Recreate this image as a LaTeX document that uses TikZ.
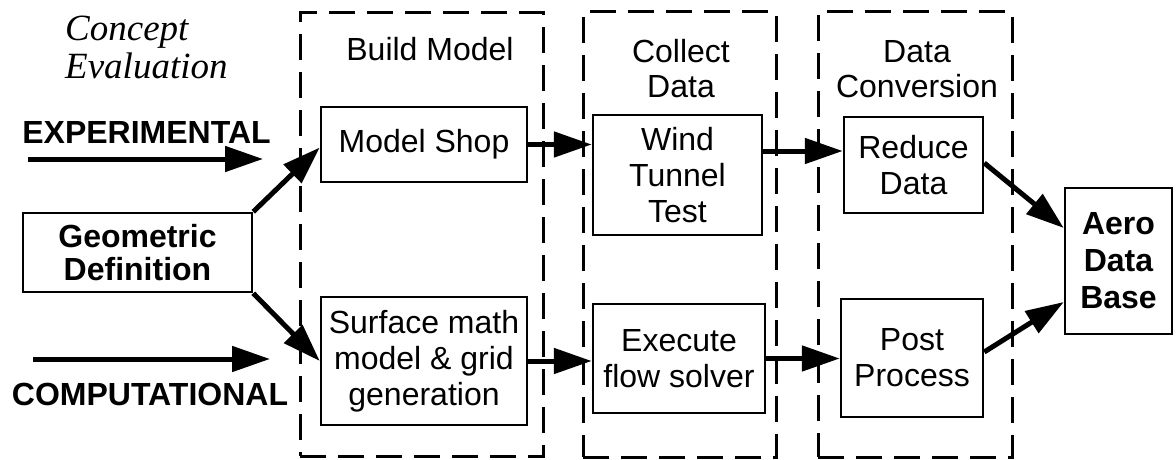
\documentclass[tikz,border=0pt]{standalone}
\usepackage{fontspec}
\setmainfont{Liberation Sans}
\newfontfamily\titleserif{Liberation Serif}
\usetikzlibrary{arrows.meta,calc}

\begin{document}
\begin{tikzpicture}[x=1pt,y=-1pt,
  box/.style={draw, line width=2.5pt, inner sep=0pt, align=center,
    font=\fontsize{32}{36}\selectfont},
  boldbox/.style={box, font=\fontsize{32}{33}\bfseries\selectfont},
  stage/.style={draw, line width=3pt, dash pattern=on 26pt off 12pt, inner sep=0pt},
  stagelabel/.style={align=center, inner sep=0pt, font=\fontsize{32}{35}\selectfont},
  modelabel/.style={inner sep=0pt, anchor=base, font=\fontsize{32}{35}\bfseries\selectfont},
  flow/.style={line width=5pt, -{Triangle[length=38pt,width=25pt]}},
]
\useasboundingbox (0,0) rectangle (1176,460);

% dashed stage frames
\node[stage, minimum width=243pt, minimum height=443pt] (build)   at (421.5,234.5) {};
\node[stage, minimum width=193pt, minimum height=445pt] (collect) at (679.5,234.5) {};
\node[stage, minimum width=194pt, minimum height=445pt] (conv)    at (915,234.5) {};

% stage titles
\node[stagelabel] (buildT)   at (430,49)  {Build Model};
\node[stagelabel] (collectT) at (681,69)  {Collect\\Data};
\node[stagelabel] (convT)    at (917,69)  {Data\\Conversion};

% heading (anchored on the baseline of its last line)
\node[anchor=base west, align=left, inner sep=0pt,
      font=\fontsize{37}{39}\titleserif\itshape\selectfont] (concept) at (65,79)
      {Concept\\Evaluation};

% process boxes
\node[boldbox, minimum width=229pt, minimum height=79pt]  (geo)    at (137.5,252.5) {Geometric\\Definition};
\node[box,     minimum width=206pt, minimum height=75pt]  (shop)   at (424,144.5)   {Model Shop};
\node[box,     minimum width=206pt, minimum height=128pt] (surf)   at (424,361)     {Surface math\\model \& grid\\generation};
\node[box,     minimum width=169pt, minimum height=120pt] (wind)   at (677.5,175)   {Wind\\Tunnel\\Test};
\node[box,     minimum width=172pt, minimum height=109pt] (exec)   at (679,358.5)   {Execute\\flow solver};
\node[box,     minimum width=139pt, minimum height=96pt]  (reduce) at (913.5,165)   {Reduce\\Data};
\node[box,     minimum width=142pt, minimum height=118pt] (post)   at (912,358)     {Post\\Process};
\node[boldbox, minimum width=107pt, minimum height=146pt, font=\fontsize{32}{37}\bfseries\selectfont]
      (aero) at (1118.5,261) {Aero\\Data\\Base};

% approach labels and their inputs
\node[modelabel] (expT)  at (146.5,143) {EXPERIMENTAL};
\node[modelabel] (compT) at (150,405)   {COMPUTATIONAL};
\coordinate (expS)  at (28,159);
\coordinate (expE)  at (263,159);
\coordinate (compS) at (33,359);
\coordinate (compE) at (270,359);
\draw[flow] (expS) -- (expE);
\draw[flow] (compS) -- (compE);

% flow between steps
\draw[flow] (geo.north east) -- ([yshift=-3pt]shop.west);
\draw[flow] (geo.south east) -- (surf.west);
\draw[flow] (shop.east) -- (shop.east -| wind.west);
\draw[flow] (surf.east) -- (surf.east -| exec.west);
\draw[flow] ([yshift=24pt]wind.east) -- ([yshift=24pt]wind.east -| reduce.west);
\draw[flow] (exec.east) -- (exec.east -| post.west);
\draw[flow] ([yshift=2pt]reduce.east) -- ([yshift=33pt]aero.west);
\draw[flow] ([yshift=6pt]post.east) -- ([yshift=-41pt]aero.west);
\end{tikzpicture}
\end{document}
